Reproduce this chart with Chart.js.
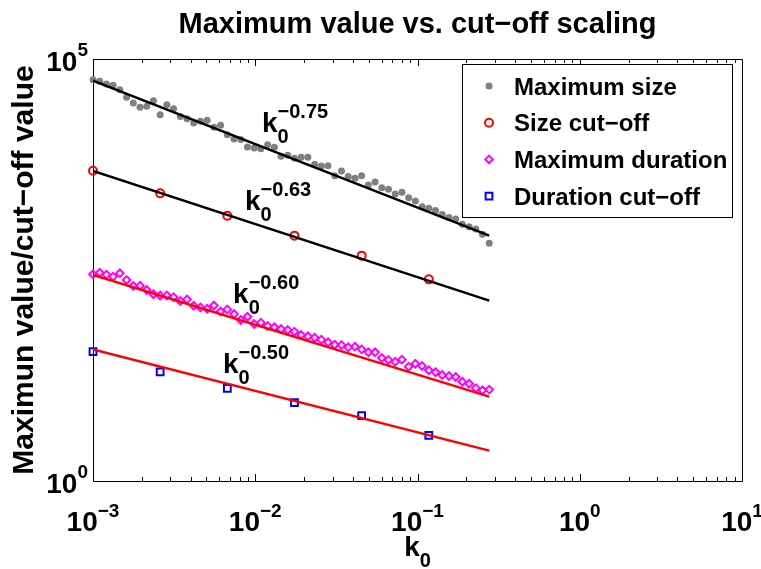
<!DOCTYPE html>
<html>
<head>
<meta charset="utf-8">
<title>Maximum value vs. cut-off scaling</title>
<script src="https://cdn.jsdelivr.net/npm/chart.js@4.4.1/dist/chart.umd.min.js"></script>
<style>
    html, body { margin: 0; padding: 0; background: #ffffff; }
    canvas { display: block; }
</style>
</head>
<body>
<canvas id="scalingChart" width="761" height="569"></canvas>
<script>
// k0 grid of the dense series (each step is x1.1)
const k0 = [
    0.001, 0.0011, 0.00121, 0.001331, 0.001464, 0.001611, 0.001772, 0.001949, 0.002144, 0.002358,
    0.002594, 0.002853, 0.003138, 0.003452, 0.003797, 0.004177, 0.004595, 0.005054, 0.00556, 0.006116,
    0.006727, 0.0074, 0.00814, 0.008954, 0.00985, 0.01083, 0.01192, 0.01311, 0.01442, 0.01586,
    0.01745, 0.01919, 0.02111, 0.02323, 0.02555, 0.0281, 0.03091, 0.034, 0.0374, 0.04115,
    0.04526, 0.04979, 0.05476, 0.06024, 0.06626, 0.07289, 0.08018, 0.0882, 0.09702, 0.1067,
    0.1174, 0.1291, 0.142, 0.1563, 0.1719, 0.1891, 0.208, 0.2288, 0.2516, 0.2768
];

const maxSize = [
    56900, 54400, 50600, 48800, 43300, 35200, 30100, 26800, 27500, 32100,
    21900, 28800, 25800, 20900, 19600, 17500, 18300, 18800, 15500, 16400,
    12700, 11300, 11100, 9060, 8830, 8670, 9670, 8980, 7030, 7220,
    6650, 6840, 6840, 5650, 5400, 5450, 4150, 4710, 4040, 3860,
    4150, 3210, 3490, 2990, 2860, 2510, 2630, 2270, 2080, 1780,
    1700, 1600, 1440, 1320, 1270, 1100, 1030, 968, 837, 655
];

const maxDuration = [
    281, 294, 279, 264, 289, 241, 204, 206, 183, 163,
    158, 158, 151, 136, 142, 119, 114, 110, 120, 102,
    108, 95.2, 80.9, 88.5, 72.5, 75.2, 68.7, 66.2, 63.2, 61.5,
    58.8, 53.7, 51.8, 49.9, 47.3, 44.0, 41.2, 40.8, 38.4, 39.1,
    36.3, 33.5, 33.5, 28.7, 27.2, 25.9, 27.4, 22.6, 24.5, 23.1,
    20.5, 19.4, 18.0, 17.5, 17.1, 15.0, 14.2, 12.6, 11.9, 12.1
];

// cut-off estimates, every 10th k0
const k0Cut = [0.001, 0.002594, 0.006727, 0.01745, 0.04526, 0.1174];
const sizeCut = [4750, 2560, 1390, 807, 468, 245];
const durationCut = [34.1, 19.6, 12.5, 8.47, 5.94, 3.48];

// power-law fits, end points over the k0 range
const fitK0 = [0.001, 0.2768];
const sizeFit = [55400, 807];
const sizeCutFit = [4710, 137];
const durationFit = [276, 9.98];
const durationCutFit = [36.3, 2.29];

// fit exponent labels: [exponent, k0, value] of the "k" baseline
const fitLabels = [
    ['\u22120.75', 0.0110, 13650],
    ['\u22120.63', 0.00865, 1625],
    ['\u22120.60', 0.0073, 128.5],
    ['\u22120.50', 0.00632, 19.0]
];

const xTicks = [1e-3, 1e-2, 1e-1, 1e0, 1e1];
const xTickExp = ['\u22123', '\u22122', '\u22121', '0', '1'];
const yTicks = [1, 1e5];
const yTickExp = ['0', '5'];

const legendNames = ['Maximum size', 'Size cut\u2212off', 'Maximum duration', 'Duration cut\u2212off'];

const FONT = '"Liberation Sans", Arial, Helvetica, sans-serif';

const toPoints = (xs, ys) => xs.map((x, i) => ({ x, y: ys[i] }));

/**
 * Marker dataset (no connecting line)
 */
function markerSet(label, xs, ys, style) {
    return {
        label,
        data: toPoints(xs, ys),
        showLine: false,
        clip: false,
        order: 1,
        ...style,
    };
}

/**
 * Fit line dataset
 */
function fitSet(ys, color) {
    return {
        data: toPoints(fitK0, ys),
        showLine: true,
        borderColor: color,
        borderWidth: 2.5,
        pointRadius: 0,
        order: 0,
    };
}

const datasets = [
    markerSet(legendNames[0], k0, maxSize, {
        pointStyle: 'circle', pointRadius: 3.5,
        pointBackgroundColor: '#808080', pointBorderColor: '#808080', pointBorderWidth: 0,
    }),
    markerSet(legendNames[1], k0Cut, sizeCut, {
        pointStyle: 'circle', pointRadius: 4,
        pointBackgroundColor: 'rgba(0,0,0,0)', pointBorderColor: '#ff0000', pointBorderWidth: 2,
    }),
    markerSet(legendNames[2], k0, maxDuration, {
        pointStyle: 'rectRot', pointRadius: 3.8,
        pointBackgroundColor: 'rgba(0,0,0,0)', pointBorderColor: '#ff00ff', pointBorderWidth: 2,
    }),
    markerSet(legendNames[3], k0Cut, durationCut, {
        pointStyle: 'rect', pointRadius: 4.8,
        pointBackgroundColor: 'rgba(0,0,0,0)', pointBorderColor: '#0000ff', pointBorderWidth: 2,
    }),
    fitSet(sizeFit, '#000000'),
    fitSet(sizeCutFit, '#000000'),
    fitSet(durationFit, '#ff0000'),
    fitSet(durationCutFit, '#ff0000'),
];

/**
 * Draw "base" with a raised exponent, returns total width
 */
function drawPower(ctx, base, exp, x, y, baseSize, expSize, rise) {
    ctx.font = `bold ${baseSize}px ${FONT}`;
    ctx.fillText(base, x, y);
    const w = ctx.measureText(base).width;
    ctx.font = `bold ${expSize}px ${FONT}`;
    ctx.fillText(exp, x + w, y - rise);
    return w + ctx.measureText(exp).width;
}

function powerWidth(ctx, base, exp, baseSize, expSize) {
    ctx.font = `bold ${baseSize}px ${FONT}`;
    const w = ctx.measureText(base).width;
    ctx.font = `bold ${expSize}px ${FONT}`;
    return w + ctx.measureText(exp).width;
}

/**
 * k with subscript 0 and optional superscript
 */
function drawK0(ctx, x, y, exp) {
    ctx.font = `bold 28px ${FONT}`;
    ctx.fillText('k', x, y);
    const w = ctx.measureText('k').width;
    ctx.font = `bold 20px ${FONT}`;
    ctx.fillText('0', x + w, y + 11);
    if (exp) ctx.fillText(exp, x + w, y - 14);
}

// Axes box and inward x ticks, drawn under the markers
const axesFrame = {
    id: 'axesFrame',
    beforeDatasetsDraw(chart) {
        const { ctx, chartArea: a, scales: { x } } = chart;
        ctx.save();
        ctx.strokeStyle = '#000000';
        ctx.lineWidth = 1;
        ctx.beginPath();
        ctx.rect(a.left + 0.5, a.top + 0.5, a.right - a.left, a.bottom - a.top);
        ctx.stroke();

        ctx.beginPath();
        for (let d = -3; d < 1; d++) {
            for (let m = 1; m < 10; m++) {
                const len = m === 1 ? 7 : 4;
                const px = Math.round(x.getPixelForValue(m * Math.pow(10, d))) + 0.5;
                ctx.moveTo(px, a.bottom);
                ctx.lineTo(px, a.bottom - len);
                ctx.moveTo(px, a.top);
                ctx.lineTo(px, a.top + len);
            }
        }
        ctx.stroke();
        ctx.restore();
    },
};

// Title, tick labels, axis titles, fit labels and the legend box
const overlayText = {
    id: 'overlayText',
    afterDatasetsDraw(chart) {
        const { ctx, chartArea: a, scales: { x, y } } = chart;
        ctx.save();
        ctx.fillStyle = '#000000';
        ctx.textBaseline = 'alphabetic';
        ctx.textAlign = 'left';

        // title
        ctx.font = `bold 29px ${FONT}`;
        ctx.textAlign = 'center';
        ctx.fillText('Maximum value vs. cut\u2212off scaling', (a.left + a.right) / 2, 33);
        ctx.textAlign = 'left';

        // x tick labels
        xTicks.forEach((v, i) => {
            const w = powerWidth(ctx, '10', xTickExp[i], 28, 19);
            drawPower(ctx, '10', xTickExp[i], x.getPixelForValue(v) - w / 2, 531, 28, 19, 14);
        });

        // y tick labels
        yTicks.forEach((v, i) => {
            const w = powerWidth(ctx, '10', yTickExp[i], 28, 19);
            drawPower(ctx, '10', yTickExp[i], a.left - 5 - w, y.getPixelForValue(v) + 12, 28, 19, 15);
        });

        // axis titles
        const kw = powerWidth(ctx, 'k', '0', 28, 20);
        drawK0(ctx, (a.left + a.right) / 2 - kw / 2, 556, null);

        ctx.save();
        ctx.translate(33, (a.top + a.bottom) / 2);
        ctx.rotate(-Math.PI / 2);
        ctx.textAlign = 'center';
        ctx.font = `bold 30px ${FONT}`;
        ctx.fillText('Maximun value/cut\u2212off value', 0, 0);
        ctx.restore();

        // fit exponents
        fitLabels.forEach(([exp, kx, vy]) => {
            drawK0(ctx, x.getPixelForValue(kx), y.getPixelForValue(vy), exp);
        });

        // legend
        const box = { left: 462, top: 64, right: 732, bottom: 217 };
        ctx.fillStyle = '#ffffff';
        ctx.fillRect(box.left, box.top, box.right - box.left, box.bottom - box.top);
        ctx.strokeStyle = '#000000';
        ctx.lineWidth = 1;
        ctx.strokeRect(box.left + 0.5, box.top + 0.5, box.right - box.left, box.bottom - box.top);

        legendNames.forEach((name, i) => {
            const ds = chart.data.datasets[i];
            const rowY = 86 + i * 36.7;
            ctx.save();
            ctx.fillStyle = ds.pointBackgroundColor;
            ctx.strokeStyle = ds.pointBorderColor;
            ctx.lineWidth = ds.pointBorderWidth;
            Chart.helpers.drawPoint(ctx, {
                pointStyle: ds.pointStyle,
                radius: ds.pointRadius,
                borderWidth: ds.pointBorderWidth,
                rotation: 0,
            }, 489, rowY);
            ctx.restore();
            ctx.fillStyle = '#000000';
            ctx.font = `bold 24px ${FONT}`;
            ctx.fillText(name, 514, rowY + 8.5);
        });
        ctx.restore();
    },
};

const ctx = document.getElementById('scalingChart').getContext('2d');
new Chart(ctx, {
    type: 'scatter',
    data: { datasets },
    options: {
        responsive: false,
        animation: false,
        layout: { padding: { left: 93, top: 59, right: 19, bottom: 88 } },
        plugins: {
            legend: { display: false },
            title: { display: false },
            tooltip: { enabled: false },
        },
        scales: {
            x: { type: 'logarithmic', min: 1e-3, max: 10, display: false },
            y: { type: 'logarithmic', min: 1, max: 1e5, display: false },
        },
    },
    plugins: [axesFrame, overlayText],
});
</script>
</body>
</html>
